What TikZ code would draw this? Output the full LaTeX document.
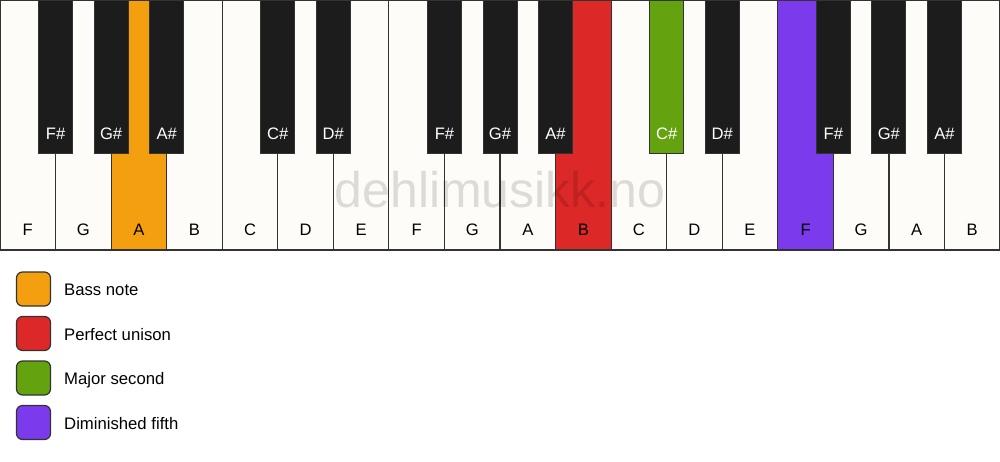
\documentclass[tikz,border=0pt]{standalone}
\usepackage{fontspec}
\setmainfont{Liberation Sans}
\definecolor{wkey}{HTML}{FDFCF9}
\definecolor{bkey}{HTML}{1C1C1C}
\definecolor{keyline}{HTML}{333333}
\definecolor{bass}{HTML}{F39F0F}
\definecolor{unison}{HTML}{DD2828}
\definecolor{second}{HTML}{64A30F}
\definecolor{fifth}{HTML}{7B3AEC}
\begin{document}
\begin{tikzpicture}[x=1pt,y=-1pt,
  whitekey/.style={draw=keyline,line width=1.2pt,minimum width=55.56pt,minimum height=250pt,anchor=north west,inner sep=0pt,outer sep=0pt},
  blackkey/.style={draw=keyline,line width=1pt,minimum width=34pt,minimum height=153pt,anchor=north,inner sep=0pt,outer sep=0pt},
  keyfont/.style={font=\fontsize{16.6}{18}\selectfont},
  legbox/.style={draw=keyline,line width=1.2pt,rounded corners=6pt,minimum size=34pt,inner sep=0pt},
  legtext/.style={anchor=base west,font=\fontsize{16.7}{18}\selectfont,inner sep=0pt}]
\useasboundingbox (0,0) rectangle (1000,461);
\fill[white] (0,0) rectangle (1000,461);
% white keys
\foreach \n/\c [count=\i from 0] in {F/wkey,G/wkey,A/bass,B/wkey,C/wkey,D/wkey,E/wkey,F/wkey,G/wkey,A/wkey,B/unison,C/wkey,D/wkey,E/wkey,F/fifth,G/wkey,A/wkey,B/wkey}{
  \node[whitekey,fill=\c] (w\i) at (\i*55.5556,0) {};
  \node[keyfont,text=black] (wl\i) at (\i*55.5556+27.78,230) {\n};
}
% black keys
\foreach \b/\n/\c/\t in {1/F\#/bkey/white,2/G\#/bkey/white,3/A\#/bkey/white,5/C\#/bkey/white,6/D\#/bkey/white,8/F\#/bkey/white,9/G\#/bkey/white,10/A\#/bkey/white,12/C\#/second/white,13/D\#/bkey/white,15/F\#/bkey/white,16/G\#/bkey/white,17/A\#/bkey/white}{
  \node[blackkey,fill=\c] (b\b) at (\b*55.5556,0) {};
  \node[keyfont,text=\t] (bl\b) at (\b*55.5556,133.5) {\n};
}
% watermark
\node[anchor=base,font=\fontsize{50}{60}\selectfont,text=black,text opacity=0.13,inner sep=0pt] (wm) at (500,207) {dehlimusikk.no};
% legend
\node[legbox,fill=bass] (l1) at (33.5,289) {};
\node[legbox,fill=unison] (l2) at (33.5,333.5) {};
\node[legbox,fill=second] (l3) at (33.5,378) {};
\node[legbox,fill=fifth] (l4) at (33.5,422.5) {};
\node[legtext] (t1) at (64,295.5) {Bass note};
\node[legtext] (t2) at (64,340) {Perfect unison};
\node[legtext] (t3) at (64,384.5) {Major second};
\node[legtext] (t4) at (64,429) {Diminished fifth};
\end{tikzpicture}
\end{document}
